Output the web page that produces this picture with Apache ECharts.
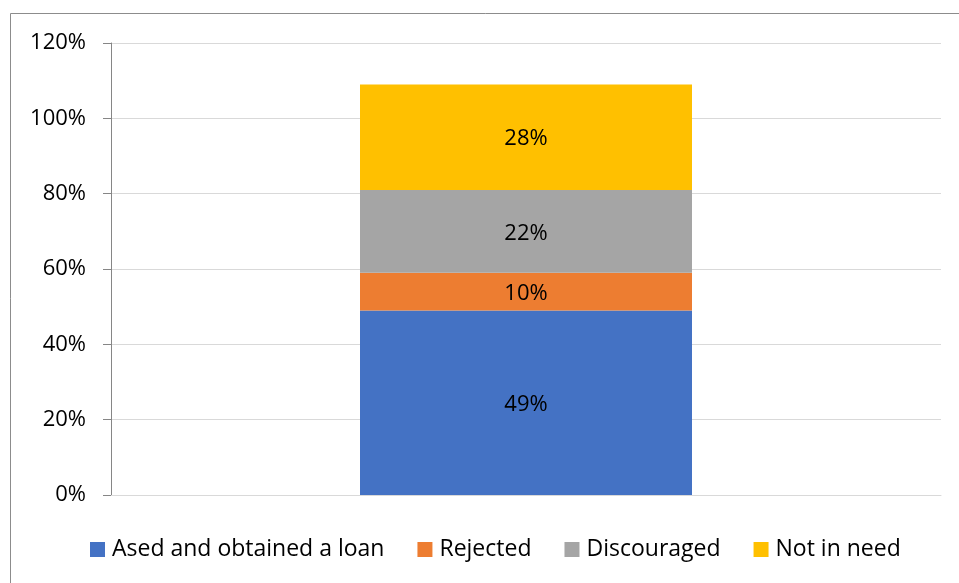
<!DOCTYPE html>
<html>
<head>
<meta charset="utf-8">
<script src="https://cdn.jsdelivr.net/npm/echarts@6/dist/echarts.min.js"></script>
<style>
  html, body { margin: 0; padding: 0; background: #fff; }
  #chart { width: 959px; height: 583px; }
</style>
</head>
<body>
<div id="chart"></div>
<script>
// Loan outcome shares, one stacked column
const categories = [''];
const seriesNames = ['Ased and obtained a loan', 'Rejected', 'Discouraged', 'Not in need'];
const obtained = [49];
const rejected = [10];
const discouraged = [22];
const notInNeed = [28];
const seriesColors = ['#4472C4', '#ED7D31', '#A5A5A5', '#FFC000'];
const yTicks = { min: 0, max: 120, interval: 20 };

const FONT = '"Open Sans", "Noto Sans", sans-serif';
const values = [obtained, rejected, discouraged, notInNeed];

const chart = echarts.init(document.getElementById('chart'), null, { renderer: 'canvas' });

chart.setOption({
  animation: false,
  backgroundColor: '#ffffff',
  graphic: [{
    type: 'rect',
    shape: { x: 10.5, y: 13.5, width: 1000, height: 1000 },
    style: { fill: 'none', stroke: '#8c8c8c', lineWidth: 1 },
    silent: true
  }],
  grid: { left: 111, right: 18, top: 43, bottom: 88, containLabel: false },
  legend: {
    bottom: 17,
    left: 85,
    itemWidth: 15,
    itemHeight: 15,
    itemGap: 33,
    icon: 'rect',
    textStyle: { fontFamily: FONT, fontSize: 23, color: '#000', padding: [0, 0, 0, 2] },
    data: seriesNames
  },
  xAxis: {
    type: 'category',
    data: categories,
    axisLine: { show: true, lineStyle: { color: '#d9d9d9', width: 1 } },
    axisTick: { show: false },
    axisLabel: { show: false },
    splitLine: { show: false }
  },
  yAxis: {
    type: 'value',
    min: yTicks.min,
    max: yTicks.max,
    interval: yTicks.interval,
    axisLine: { show: true, lineStyle: { color: '#868686', width: 1 } },
    axisTick: { show: true, length: 8, inside: false, lineStyle: { color: '#868686' } },
    axisLabel: {
      formatter: v => v + '%',
      fontFamily: FONT,
      fontSize: 22,
      color: '#000',
      margin: 25
    },
    splitLine: { show: true, lineStyle: { color: '#d9d9d9', width: 1 } }
  },
  series: seriesNames.map((name, i) => ({
    name,
    type: 'bar',
    stack: 'total',
    barWidth: '40%',
    data: values[i],
    itemStyle: { color: seriesColors[i] },
    label: {
      show: true,
      position: 'inside',
      offset: [0, 2],
      formatter: p => p.value + '%',
      fontFamily: FONT,
      fontSize: 22,
      color: '#000'
    }
  }))
});
</script>
</body>
</html>
